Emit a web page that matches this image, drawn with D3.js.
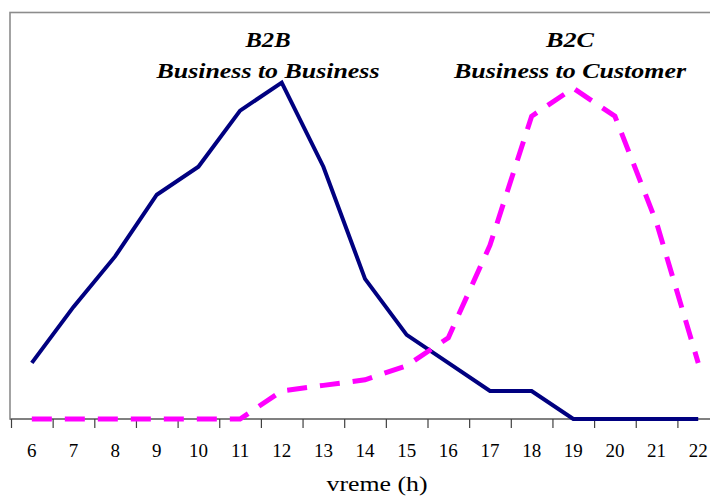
<!DOCTYPE html>
<html>
<head>
<meta charset="utf-8">
<script src="https://cdn.jsdelivr.net/npm/d3@7"></script>
<style>
    body { margin: 0; background: #fff; }
    svg { display: block; }
    .b2b-line { fill: none; stroke: #000080; stroke-width: 4; stroke-linejoin: miter; }
    .b2c-line { fill: none; stroke: #ff00ff; stroke-width: 5; stroke-dasharray: 20,13; }
    .title-text { font-family: "Liberation Serif", "Times New Roman", serif; font-weight: bold; font-style: italic; font-size: 22px; text-anchor: middle; }
    .tick-label, .axis-title { font-family: "Liberation Serif", "Times New Roman", serif; }
</style>
</head>
<body>
<svg width="710" height="497"></svg>
<script>
// Hours on the x axis
var hours = ["6", "7", "8", "9", "10", "11", "12", "13", "14", "15", "16", "17", "18", "19", "20", "21", "22"];

// Series values
var b2bValues = [2, 4, 5.8, 8, 9, 11, 12, 9, 5, 3, 2, 1, 1, 0, 0, 0, 0];
var b2cValues = [0, 0, 0, 0, 0, 0, 1, 1.2, 1.4, 1.9, 2.9, 6.2, 10.8, 11.8, 10.8, 7, 2];

var titleLines = [["B2B", "Business to Business"], ["B2C", "Business to Customer"]];

var svg = d3.select("svg");

// Plot area (the right part is cut off by the window)
var plotLeft = 10, plotTop = 12.5, plotBottom = 419;

var xScale = d3.scaleBand().domain(hours).range([11, 11 + 17 * 41.65]).padding(0),
    yScale = d3.scaleLinear().domain([0, 14.5]).range([plotBottom, plotTop]);

function xCenter(h) { return xScale(h) + xScale.bandwidth() / 2; }

// Frame
svg.append("rect")
    .attr("x", plotLeft)
    .attr("y", plotTop)
    .attr("width", 740)
    .attr("height", plotBottom - plotTop)
    .attr("fill", "none")
    .attr("stroke", "#8c8c8c")
    .attr("stroke-width", 1.6);

// X axis: labels from d3, ticks between categories
var xAxis = svg.append("g")
    .attr("transform", "translate(0," + plotBottom + ")")
    .call(d3.axisBottom(xScale).tickSize(0).tickPadding(0));
xAxis.select(".domain").remove();
xAxis.selectAll(".tick text")
    .attr("class", "tick-label")
    .attr("y", 38)
    .attr("dy", null)
    .attr("fill", "#000")
    .style("font-size", "19px");

svg.append("line")
    .attr("x1", plotLeft).attr("x2", 720)
    .attr("y1", plotBottom).attr("y2", plotBottom)
    .attr("stroke", "#808080")
    .attr("stroke-width", 2);

svg.selectAll(".xtick")
    .data(hours)
    .enter()
    .append("line")
    .attr("class", "xtick")
    .attr("x1", d => xScale(d) + 0.5)
    .attr("x2", d => xScale(d) + 0.5)
    .attr("y1", plotBottom)
    .attr("y2", plotBottom + 9)
    .attr("stroke", "#404040")
    .attr("stroke-width", 1.2);

svg.append("text")
    .attr("class", "axis-title")
    .attr("x", 377)
    .attr("y", 491)
    .attr("text-anchor", "middle")
    .attr("textLength", 101)
    .attr("lengthAdjust", "spacingAndGlyphs")
    .style("font-size", "21px")
    .text("vreme (h)");

// Lines
var line = d3.line()
    .x(function (d, i) { return xCenter(hours[i]); })
    .y(function (d) { return yScale(d); });

svg.append("path")
    .datum(b2bValues)
    .attr("class", "b2b-line")
    .attr("d", line);

svg.append("path")
    .datum(b2cValues)
    .attr("class", "b2c-line")
    .attr("d", line);

// Titles
var titleCenters = [268, 570],
    titleWidths = [[45, 223], [48, 232]];
titleLines.forEach(function (t, k) {
    t.forEach(function (txt, j) {
        svg.append("text")
            .attr("class", "title-text")
            .attr("x", titleCenters[k])
            .attr("y", j === 0 ? 47 : 78)
            .attr("textLength", titleWidths[k][j])
            .attr("lengthAdjust", "spacingAndGlyphs")
            .text(txt);
    });
});
</script>
</body>
</html>
